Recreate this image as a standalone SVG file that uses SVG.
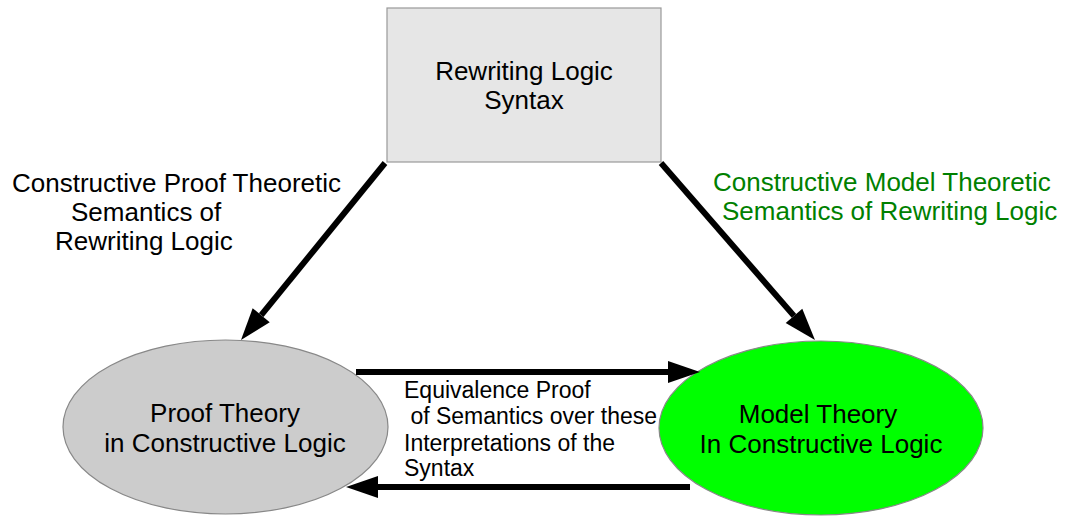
<svg xmlns="http://www.w3.org/2000/svg" width="1068" height="516" viewBox="0 0 1068 516">
  <style>
    text { font-family: "Liberation Sans", Arial, sans-serif; fill: #000; }
    .big { font-size: 26px; }
    .mid { font-size: 23px; }
    .green { fill: #008000; }
    .conn { stroke: #000; stroke-width: 6; fill: none; marker-end: url(#head); }
  </style>
  <defs>
    <marker id="head" markerUnits="userSpaceOnUse" markerWidth="32" markerHeight="22" refX="0" refY="11" orient="auto" overflow="visible">
      <path d="M0,0 L32,11 L0,22 z" fill="#000"/>
    </marker>
  </defs>
  <rect width="1068" height="516" fill="#fff"/>

  <g id="syntax">
    <rect x="387" y="8" width="274" height="154" fill="#e6e6e6" stroke="#999" stroke-width="1.2"/>
    <text class="big" x="524" y="80" text-anchor="middle">Rewriting Logic</text>
    <text class="big" x="524" y="109" text-anchor="middle">Syntax</text>
  </g>

  <g id="proof">
    <ellipse cx="225.5" cy="427" rx="162.5" ry="87" fill="#cccccc" stroke="#888" stroke-width="1.2"/>
    <text class="big" x="225" y="422" text-anchor="middle">Proof Theory</text>
    <text class="big" x="225" y="452" text-anchor="middle">in Constructive Logic</text>
  </g>

  <g id="model">
    <ellipse cx="821" cy="428" rx="162" ry="87" fill="#00ff00" stroke="#888" stroke-width="1.2"/>
    <text class="big" x="818" y="423" text-anchor="middle">Model Theory</text>
    <text class="big" x="821" y="453" text-anchor="middle">In Constructive Logic</text>
  </g>

  <g id="connectors">
    <line class="conn" x1="385" y1="163" x2="261.2" y2="315.2"/>
    <line class="conn" x1="661" y1="163" x2="794" y2="315.9"/>
    <line class="conn" x1="356" y1="372" x2="668" y2="372"/>
    <line class="conn" x1="690" y1="487" x2="378" y2="487"/>
  </g>

  <g id="label-proof">
    <text class="big" x="12" y="192">Constructive Proof Theoretic</text>
    <text class="big" x="71" y="221">Semantics of</text>
    <text class="big" x="55" y="250">Rewriting Logic</text>
  </g>

  <g id="label-model">
    <text class="big green" x="713" y="191">Constructive Model Theoretic</text>
    <text class="big green" x="722" y="220">Semantics of Rewriting Logic</text>
  </g>

  <g id="label-equiv">
    <text class="mid" x="404" y="398">Equivalence Proof</text>
    <text class="mid" x="404" y="424" xml:space="preserve"> of Semantics over these</text>
    <text class="mid" x="404" y="451">Interpretations of the</text>
    <text class="mid" x="404" y="476">Syntax</text>
  </g>
</svg>
